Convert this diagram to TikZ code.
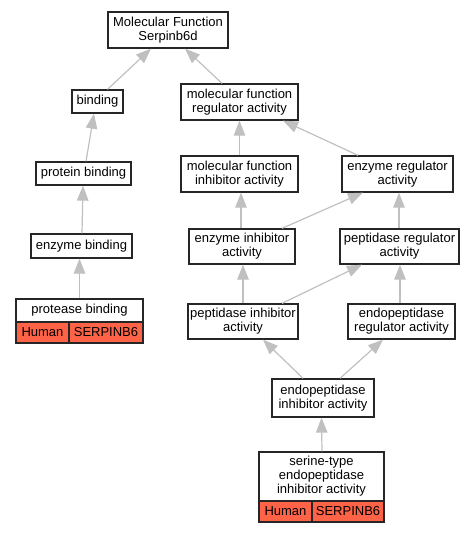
\documentclass[tikz,border=0pt]{standalone}
\usepackage{fontspec}
\setmainfont{Liberation Sans}
\usetikzlibrary{arrows.meta}
\definecolor{edgegray}{RGB}{192,192,192}
\definecolor{cellred}{RGB}{255,99,71}
\tikzset{
  box/.style={draw=black!85, line width=1.3pt, fill=white, inner sep=0pt, align=center,
    font=\fontsize{13}{14}\selectfont},
  cell/.style={draw=black!85, line width=1.1pt, fill=cellred, inner sep=0pt, align=center,
    font=\fontsize{13}{14}\selectfont},
  edge/.style={draw=edgegray, line width=1.2pt, -{Triangle[length=15pt,width=11.5pt]}}
}
\newcommand{\bx}[6]{% name, x1, y1, x2, y2, text
  \node[box, minimum width={#4-#2}, minimum height={#5-#3}] (#1) at ({(#2+#4)/2},{(#3+#5)/2}) {#6};}
\newcommand{\cx}[6]{%
  \node[cell, minimum width={#4-#2}, minimum height={#5-#3}] (#1) at ({(#2+#4)/2},{(#3+#5)/2}) {#6};}
\begin{document}
\begin{tikzpicture}[x=1pt,y=-1pt]
\useasboundingbox (0,0) rectangle (476,533);
\bx{mf}{108}{12}{228}{48}{Molecular Function\\Serpinb6d}
\bx{binding}{72}{90}{123}{113}{binding}
\bx{mfra}{181}{84}{298}{120}{molecular function\\regulator activity}
\bx{mfia}{181}{156}{298}{192}{molecular function\\inhibitor activity}
\bx{era}{342}{156}{453}{192}{enzyme regulator\\activity}
\bx{pb}{36}{162}{131}{185}{protein binding}
\bx{eb}{31}{234}{132}{258}{enzyme binding}
\bx{eia}{189}{229}{295}{264}{enzyme inhibitor\\activity}
\bx{pra}{340}{229}{459}{264}{peptidase regulator\\activity}
\bx{pia}{188}{304}{298}{339}{peptidase inhibitor\\activity}
\bx{epra}{348}{304}{455}{339}{endopeptidase\\regulator activity}
\bx{epia}{272}{379}{374}{417}{endopeptidase\\inhibitor activity}
% protease binding
\bx{prb}{16}{299}{143}{322}{protease binding}
\cx{prbH}{16}{322}{69}{343}{Human}
\cx{prbS}{69}{322}{143}{343}{SERPINB6}
% serine-type
\bx{st}{259}{452}{384}{501}{serine-type\\endopeptidase\\inhibitor activity}
\cx{stH}{259}{501}{312}{522}{Human}
\cx{stS}{312}{501}{384}{522}{SERPINB6}
% connectors
\draw[edge] ([xshift=10pt]binding.north) -- ([xshift=-17pt]mf.south);
\draw[edge] ([xshift=-17.5pt]mfra.north) -- ([xshift=17pt]mf.south);
\draw[edge] ([xshift=2.5pt]pb.north) -- ([xshift=-3.5pt]binding.south);
\draw[edge] ([xshift=0.5pt]eb.north) -- ([xshift=-0.5pt]pb.south);
\draw[edge] (prb.north) -- (prb.north |- eb.south);
\draw[edge] (mfia.north) -- (mfia.north |- mfra.south);
\draw[edge] ([xshift=-39.5pt]era.north) -- ([xshift=43.5pt]mfra.south);
\draw[edge] ([xshift=-1pt]eia.north) -- ([xshift=1.5pt]mfia.south);
\draw[edge] ([xshift=40pt]eia.north) -- ([xshift=-34.5pt]era.south);
\draw[edge] ([xshift=-0.5pt]pra.north) -- ([xshift=1.5pt]era.south);
\draw[edge] (pia.north) -- (pia.north |- eia.south);
\draw[edge] ([xshift=39pt]pia.north) -- ([xshift=-37.5pt]pra.south);
\draw[edge] ([xshift=-1.5pt]epra.north) -- ([xshift=0.5pt]pra.south);
\draw[edge] ([xshift=-20pt]epia.north) -- ([xshift=20pt]pia.south);
\draw[edge] ([xshift=17pt]epia.north) -- ([xshift=-18.5pt]epra.south);
\draw[edge] ([xshift=0.5pt]st.north) -- (st.north |- epia.south);
\end{tikzpicture}
\end{document}
